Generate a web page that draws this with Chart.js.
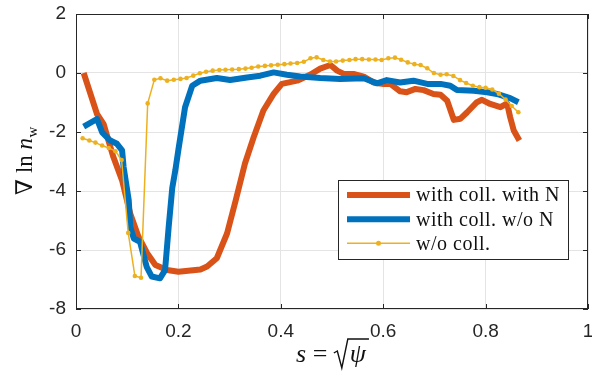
<!DOCTYPE html>
<html><head><meta charset="utf-8">
<script src="https://cdn.jsdelivr.net/npm/chart.js@4.4.1/dist/chart.umd.min.js"></script>
<style>html,body{margin:0;padding:0;background:#fff;}#wrap{width:592px;height:374px;}</style>
</head><body><div id="wrap"><canvas id="c" width="592" height="374"></canvas></div>
<script>
// ---- data ----
const xTicks = [0, 0.2, 0.4, 0.6, 0.8, 1];
const yTicks = [-8, -6, -4, -2, 0, 2];
const seriesNames = ['with coll. with N', 'with coll. w/o N', 'w/o coll.'];

const sOrange = [0.015,0.041,0.054,0.073,0.090,0.106,0.122,0.139,0.155,0.178,0.200,0.243,0.256,0.275,0.295,0.312,0.330,0.347,0.366,0.386,0.402,0.432,0.458,0.477,0.497,0.510,0.523,0.542,0.562,0.581,0.601,0.614,0.633,0.646,0.663,0.679,0.698,0.712,0.725,0.738,0.751,0.764,0.783,0.793,0.809,0.829,0.842,0.848,0.855,0.866];
const vOrange = [0.00,-1.39,-1.73,-2.85,-3.64,-4.77,-5.55,-6.11,-6.51,-6.68,-6.74,-6.66,-6.56,-6.28,-5.44,-4.31,-3.07,-2.18,-1.27,-0.71,-0.37,-0.26,-0.05,0.15,0.27,0.08,-0.03,-0.03,-0.12,-0.32,-0.37,-0.37,-0.62,-0.65,-0.54,-0.58,-0.71,-0.74,-0.94,-1.59,-1.55,-1.33,-0.99,-0.91,-1.05,-1.16,-1.03,-1.50,-1.95,-2.29];

const sBlue = [0.015,0.041,0.051,0.067,0.080,0.090,0.093,0.103,0.106,0.113,0.125,0.138,0.148,0.164,0.174,0.181,0.188,0.194,0.200,0.213,0.227,0.243,0.275,0.301,0.334,0.360,0.386,0.412,0.438,0.477,0.516,0.562,0.588,0.607,0.633,0.659,0.686,0.712,0.731,0.744,0.777,0.803,0.822,0.848,0.864];
const vBlue = [-1.82,-1.56,-2.01,-2.29,-2.40,-2.62,-3.19,-4.31,-5.22,-5.61,-5.72,-6.57,-6.90,-6.96,-6.68,-5.22,-3.90,-3.30,-2.60,-1.16,-0.43,-0.26,-0.17,-0.24,-0.15,-0.09,0.02,-0.06,-0.12,-0.17,-0.20,-0.18,-0.35,-0.24,-0.32,-0.26,-0.37,-0.37,-0.43,-0.58,-0.60,-0.65,-0.71,-0.85,-0.99];

const sYellow = [0.013,0.026,0.038,0.051,0.064,0.077,0.089,0.102,0.115,0.127,0.140,0.153,0.165,0.178,0.191,0.204,0.216,0.229,0.242,0.254,0.267,0.280,0.292,0.305,0.318,0.331,0.343,0.356,0.369,0.381,0.394,0.407,0.419,0.432,0.445,0.458,0.470,0.483,0.496,0.508,0.521,0.534,0.546,0.559,0.572,0.585,0.597,0.610,0.623,0.635,0.648,0.661,0.673,0.686,0.699,0.712,0.724,0.737,0.750,0.762,0.775,0.788,0.800,0.813,0.826,0.839,0.851,0.864];
const vYellow = [-2.21,-2.29,-2.36,-2.46,-2.54,-2.65,-2.95,-5.42,-6.88,-6.94,-1.03,-0.23,-0.18,-0.26,-0.23,-0.20,-0.17,-0.09,-0.01,0.04,0.08,0.10,0.11,0.12,0.13,0.15,0.18,0.22,0.24,0.26,0.28,0.30,0.32,0.34,0.38,0.50,0.53,0.44,0.39,0.39,0.42,0.44,0.47,0.47,0.46,0.46,0.44,0.50,0.52,0.45,0.36,0.30,0.27,0.16,0.00,-0.06,-0.04,-0.10,-0.24,-0.34,-0.43,-0.48,-0.50,-0.56,-0.70,-0.90,-1.12,-1.33];

// ---- styles ----
const C_OR = '#D95319', C_BL = '#0072BD', C_YE = '#EDB120';
const AX = '#262626', GRID = '#e4e4e4';
const SERIF = '"Liberation Serif","DejaVu Serif",serif';
const SANS = '"Liberation Sans", Arial, sans-serif';

function pts(xs, ys){ return xs.map((x,i)=>({x:x, y:ys[i]})); }

const decor = {
  id: 'decor',
  afterDraw(chart){
    const ctx = chart.ctx, a = chart.chartArea, sx = chart.scales.x, sy = chart.scales.y;
    ctx.save();
    // box
    ctx.strokeStyle = AX; ctx.lineWidth = 1;
    ctx.strokeRect(Math.round(a.left)+0.5, Math.round(a.top)+0.5, Math.round(a.right-a.left)-1, Math.round(a.bottom-a.top)-1);
    // inward ticks
    ctx.beginPath();
    xTicks.forEach(v=>{ const p = Math.round(sx.getPixelForValue(v))+0.5;
      ctx.moveTo(p, a.bottom); ctx.lineTo(p, a.bottom-5);
      ctx.moveTo(p, a.top); ctx.lineTo(p, a.top+5); });
    yTicks.forEach(v=>{ const p = Math.round(sy.getPixelForValue(v))+0.5;
      ctx.moveTo(a.left, p); ctx.lineTo(a.left+5, p);
      ctx.moveTo(a.right, p); ctx.lineTo(a.right-5, p); });
    ctx.stroke();

    // legend
    const lx = 338.5, ly = 180.5, lw = 230, lh = 79;
    ctx.fillStyle = '#fff'; ctx.fillRect(lx, ly, lw, lh);
    ctx.strokeStyle = AX; ctx.lineWidth = 1; ctx.strokeRect(lx, ly, lw, lh);
    const rows = [195, 219.3, 243.3];
    const cols = [C_OR, C_BL, C_YE], widths = [6, 6, 1.5];
    ctx.font = '20px ' + SERIF; ctx.textBaseline = 'middle'; ctx.textAlign = 'left';
    try { ctx.letterSpacing = '0.5px'; } catch(e) {}
    rows.forEach((y,i)=>{
      ctx.strokeStyle = cols[i]; ctx.lineWidth = widths[i]; ctx.lineCap = 'butt';
      ctx.beginPath(); ctx.moveTo(347, y); ctx.lineTo(410, y); ctx.stroke();
      if(i===2){ ctx.fillStyle = C_YE; ctx.beginPath(); ctx.arc(378.5, y, 2.5, 0, Math.PI*2); ctx.fill(); }
      ctx.fillStyle = '#111'; ctx.fillText(seriesNames[i], 416, y+1);
    });
    try { ctx.letterSpacing = '0px'; } catch(e) {}

    // x title: s = sqrt(psi)
    ctx.fillStyle = '#111'; ctx.strokeStyle = '#111';
    const base = 362, fs = 26;
    const fI = 'italic ' + fs + 'px ' + SERIF, fR = fs + 'px ' + SERIF;
    ctx.textBaseline = 'alphabetic';
    ctx.font = fI; const w1 = ctx.measureText('s').width;
    ctx.font = fR; const w2 = ctx.measureText(' = ').width;
    const wr = 15;
    ctx.font = fI; const w3 = ctx.measureText('\u03C8').width;
    const tot = w1 + w2 + wr + w3 + 3;
    let x0 = (a.left + a.right)/2 - tot/2;
    ctx.font = fI; ctx.fillText('s', x0, base); x0 += w1;
    ctx.font = fR; ctx.fillText(' = ', x0, base); x0 += w2;
    // radical
    ctx.lineWidth = 1.4; ctx.lineJoin = 'miter';
    ctx.beginPath();
    ctx.moveTo(x0, base-9); ctx.lineTo(x0+3.5, base-11);
    ctx.lineTo(x0+8, base+6); ctx.lineTo(x0+wr-1, base-23);
    ctx.lineTo(x0+wr+w3+4, base-23);
    ctx.stroke();
    x0 += wr;
    ctx.font = fI; ctx.fillText('\u03C8', x0+1, base);

    // y title: nabla ln n_w
    ctx.save();
    ctx.translate(32, 161); ctx.rotate(-Math.PI/2);
    const yf = 23;
    ctx.font = yf + 'px ' + SERIF; const p1 = '\u2207 ln ';
    const wp1 = ctx.measureText(p1).width;
    ctx.font = 'italic ' + yf + 'px ' + SERIF; const wn = ctx.measureText('n').width;
    ctx.font = '15px ' + SERIF; const ww = ctx.measureText('w').width;
    let t0 = -(wp1 + wn + ww)/2;
    ctx.font = yf + 'px ' + SERIF; ctx.fillText(p1, t0, 0); t0 += wp1;
    ctx.font = 'italic ' + yf + 'px ' + SERIF; ctx.fillText('n', t0, 0); t0 += wn + 0.5;
    ctx.font = '15px ' + SERIF; ctx.fillText('w', t0, 5);
    ctx.restore();
    ctx.restore();
  }
};

new Chart(document.getElementById('c'), {
  type: 'line',
  data: {
    datasets: [
      { label: seriesNames[0], data: pts(sOrange, vOrange), borderColor: C_OR, borderWidth: 6, pointRadius: 0, tension: 0, order: 3, borderJoinStyle: 'round', fill: false },
      { label: seriesNames[1], data: pts(sBlue, vBlue), borderColor: C_BL, borderWidth: 6, pointRadius: 0, tension: 0, order: 2, borderJoinStyle: 'round', fill: false },
      { label: seriesNames[2], data: pts(sYellow, vYellow), borderColor: C_YE, backgroundColor: C_YE, borderWidth: 1.5, pointRadius: 2.3, pointBorderWidth: 0, pointBackgroundColor: C_YE, tension: 0, order: 1, fill: false }
    ]
  },
  options: {
    responsive: false, animation: false, devicePixelRatio: 1,
    layout: { padding: { top: 14, right: 4, left: 0, bottom: 0 } },
    plugins: { legend: { display: false }, tooltip: { enabled: false } },
    scales: {
      x: {
        type: 'linear', min: 0, max: 1,
        afterBuildTicks: s => { s.ticks = xTicks.map(v=>({value:v})); },
        afterFit: s => { s.height = 65; s.paddingLeft = 0; s.paddingRight = 0; },
        grid: { color: GRID, lineWidth: 1, drawTicks: false },
        border: { display: false },
        ticks: { color: AX, font: { family: SANS, size: 19 }, padding: 11, maxRotation: 0, callback: v => String(v) }
      },
      y: {
        type: 'linear', min: -8, max: 2,
        afterBuildTicks: s => { s.ticks = yTicks.map(v=>({value:v})); },
        afterFit: s => { s.width = 76; s.paddingTop = 0; s.paddingBottom = 0; },
        grid: { color: GRID, lineWidth: 1, drawTicks: false },
        border: { display: false },
        ticks: { color: AX, font: { family: SANS, size: 19 }, padding: 10, callback: v => String(v) }
      }
    }
  },
  plugins: [decor]
});
</script>
</body></html>
